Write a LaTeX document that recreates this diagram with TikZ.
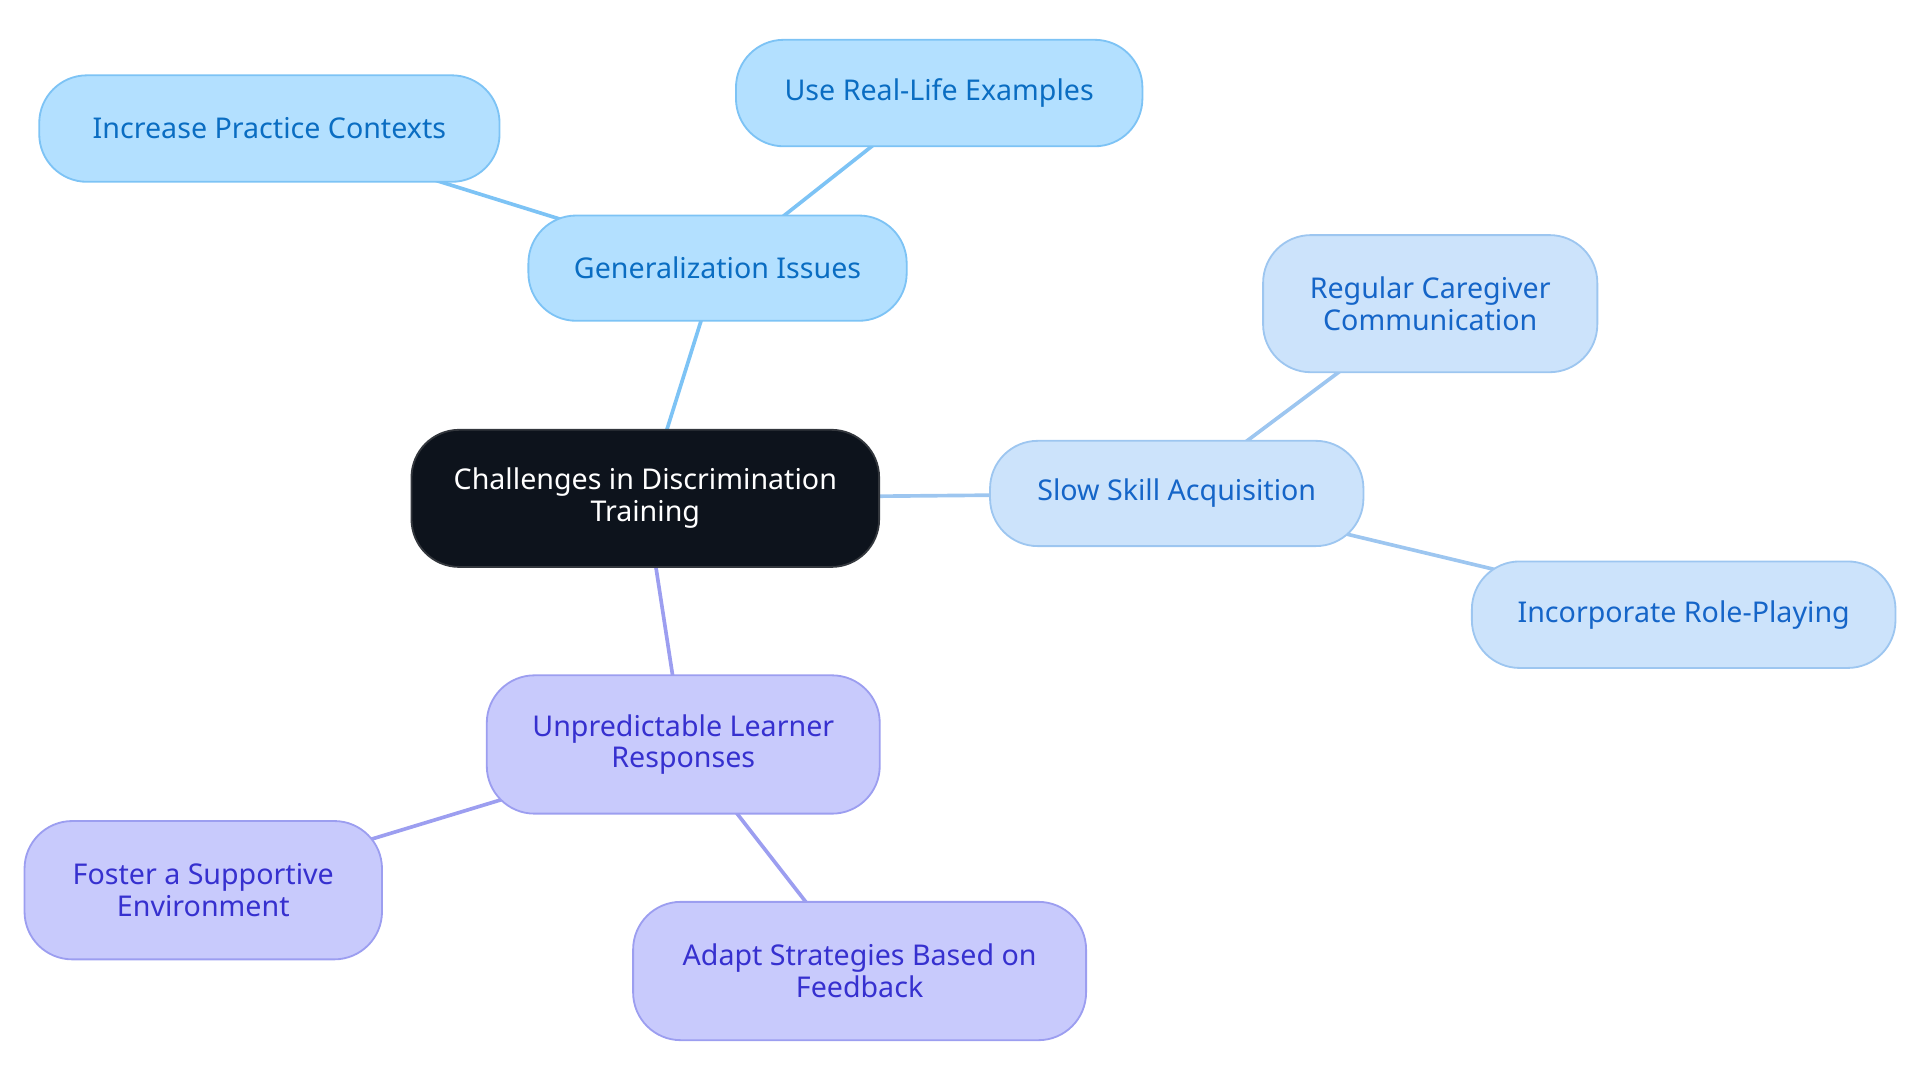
\documentclass[tikz,border=0pt]{standalone}
\usepackage{fontspec}
\setmainfont{Noto Sans}
\usepackage{tikz}
\usetikzlibrary{positioning,backgrounds}

\definecolor{rootfill}{HTML}{0D131C}
\definecolor{rootline}{HTML}{33373D}
\definecolor{genfill}{HTML}{B3E0FF}
\definecolor{genline}{HTML}{7DC3F5}
\definecolor{gentext}{HTML}{0A6DC2}
\definecolor{slowfill}{HTML}{CCE3FB}
\definecolor{slowline}{HTML}{9DC6F0}
\definecolor{slowtext}{HTML}{1565C8}
\definecolor{predfill}{HTML}{C8CAFC}
\definecolor{predline}{HTML}{9C9EF0}
\definecolor{predtext}{HTML}{3630CF}

\begin{document}
\begin{tikzpicture}[
    x=0.02cm, y=-0.02cm,
    bubble/.style={rectangle, rounded corners=0.78cm, line width=0.85pt, inner sep=0,
        align=center, font=\fontsize{13.3}{14.7}\selectfont},
    root/.style={bubble, fill=rootfill, draw=rootline, text=white},
    genbox/.style={bubble, fill=genfill, draw=genline, text=gentext},
    slowbox/.style={bubble, fill=slowfill, draw=slowline, text=slowtext},
    predbox/.style={bubble, fill=predfill, draw=predline, text=predtext},
    link/.style={line width=1.7pt}]

\useasboundingbox (0,0) rectangle (1568,884);

% centre
\node (root) [root, minimum width=7.64cm, minimum height=2.24cm] at (527,407) {Challenges in Discrimination\\Training};

% first branch
\node (gen) [genbox, minimum width=6.18cm, minimum height=1.72cm] at (586,219) {Generalization Issues};
\node (genctx) [genbox, minimum width=7.52cm, minimum height=1.74cm] at (220,105) {Increase Practice Contexts};
\node (genreal) [genbox, minimum width=6.64cm, minimum height=1.74cm] at (767,76) {Use Real-Life Examples};

% second branch
\node (slow) [slowbox, minimum width=6.10cm, minimum height=1.72cm] at (961,403) {Slow Skill Acquisition};
\node (slowcare) [slowbox, minimum width=5.46cm, minimum height=2.24cm] at (1168,248) {Regular Caregiver\\Communication};
\node (slowrole) [slowbox, minimum width=6.92cm, minimum height=1.74cm] at (1375,502) {Incorporate Role-Playing};

% third branch
\node (pred) [predbox, minimum width=6.42cm, minimum height=2.26cm] at (558,608) {Unpredictable Learner\\Responses};
\node (predenv) [predbox, minimum width=5.84cm, minimum height=2.26cm] at (166,727) {Foster a Supportive\\Environment};
\node (predadapt) [predbox, minimum width=7.40cm, minimum height=2.26cm] at (702,793) {Adapt Strategies Based on\\Feedback};

\begin{scope}[on background layer]
\path[draw, link, genline] (root.center) -- (gen.center);
\path[draw, link, genline] (gen.center) -- (genctx.center);
\path[draw, link, genline] (gen.center) -- (genreal.center);
\path[draw, link, slowline] (root.center) -- (slow.center);
\path[draw, link, slowline] (slow.center) -- (slowcare.center);
\path[draw, link, slowline] (slow.center) -- (slowrole.center);
\path[draw, link, predline] (root.center) -- (pred.center);
\path[draw, link, predline] (pred.center) -- (predenv.center);
\path[draw, link, predline] (pred.center) -- (predadapt.center);
\end{scope}

\end{tikzpicture}
\end{document}
